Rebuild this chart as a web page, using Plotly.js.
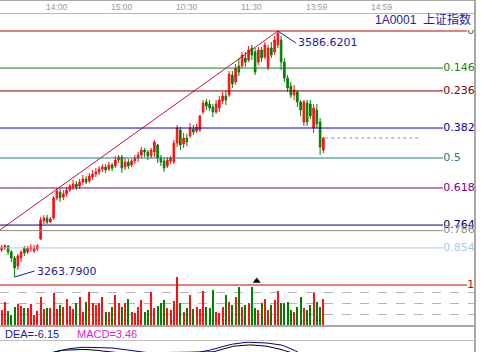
<!DOCTYPE html>
<html><head><meta charset="utf-8">
<script src="https://cdn.plot.ly/plotly-3.0.1.min.js"></script>
<style>html,body{margin:0;padding:0;background:#fff}#chart{width:481px;height:352px}</style>
</head><body><div id="chart"></div>
<script>
// ---- data ----
const open=[3299.2,3301.9,3304.5,3296.6,3288.7,3278.2,3288.7,3301.9,3296.6,3300.5,
3297.9,3300.5,3313.7,3337.3,3341.2,3336.0,3341.2,3367.5,3375.3,3368.8,
3372.7,3378.0,3381.9,3385.8,3383.2,3388.5,3392.4,3389.8,3395.0,3399.0,
3401.6,3405.5,3408.1,3405.5,3410.8,3409.5,3417.3,3421.3,3408.1,3414.7,
3410.8,3416.0,3420.0,3423.9,3430.4,3427.8,3422.6,3427.8,3437.0,3420.0,
3416.0,3409.5,3416.0,3414.7,3439.6,3456.7,3438.3,3446.2,3448.8,3458.0,
3455.4,3456.7,3480.3,3493.4,3490.8,3486.9,3480.3,3485.6,3494.8,3501.3,
3502.6,3528.9,3519.7,3540.7,3540.7,3551.2,3548.6,3564.3,3559.1,3545.9,
3561.7,3552.5,3538.1,3564.3,3559.1,3568.2,3574.8,3545.9,3524.9,3514.4,
3502.6,3506.6,3493.4,3467.2,3492.1,3490.8,3459.3,3482.9,3467.2,3430.4];
const high=[3305.8,3307.1,3305.8,3299.2,3291.4,3294.0,3299.2,3304.5,3304.5,3307.1,
3305.8,3307.1,3342.5,3345.2,3345.2,3342.5,3370.1,3380.6,3379.3,3378.0,
3381.9,3385.8,3391.1,3389.8,3392.4,3397.6,3396.3,3400.3,3404.2,3406.8,
3409.5,3412.1,3412.1,3414.7,3413.4,3422.6,3423.9,3423.9,3420.0,3418.6,
3418.6,3423.9,3427.8,3434.4,3433.1,3430.4,3433.1,3443.6,3438.3,3423.9,
3420.0,3421.3,3422.6,3443.6,3463.3,3460.6,3452.8,3451.5,3465.9,3463.3,
3464.6,3476.4,3496.1,3497.4,3496.1,3490.8,3496.1,3501.3,3506.6,3507.9,
3534.1,3534.1,3543.3,3551.2,3559.1,3559.1,3566.9,3568.2,3564.3,3565.6,
3565.6,3572.2,3568.2,3572.2,3580.1,3586.62,3580.1,3551.2,3528.9,3519.7,
3515.8,3509.2,3496.1,3496.1,3496.1,3496.1,3490.8,3490.8,3472.5,3447.5];
const low=[3296.6,3299.2,3292.7,3283.5,3263.79,3273.0,3283.5,3291.4,3294.0,3296.6,
3295.3,3297.9,3312.4,3333.3,3333.3,3334.7,3338.6,3364.8,3362.2,3364.8,
3368.8,3375.3,3378.0,3378.0,3379.3,3384.5,3385.8,3387.2,3391.1,3395.0,
3397.6,3401.6,3400.3,3402.9,3402.9,3406.8,3413.4,3400.3,3404.2,3405.5,
3408.1,3412.1,3414.7,3420.0,3421.3,3417.3,3420.0,3421.3,3413.4,3409.5,
3401.6,3406.8,3412.1,3412.1,3434.4,3430.4,3433.1,3435.7,3446.2,3450.1,
3452.8,3454.1,3477.7,3483.0,3481.6,3473.8,3477.7,3480.3,3490.8,3489.5,
3500.0,3511.8,3515.8,3527.6,3538.1,3539.4,3545.9,3548.6,3528.9,3542.0,
3545.9,3549.9,3535.4,3551.2,3555.1,3564.3,3535.4,3519.7,3506.6,3498.7,
3496.1,3486.9,3475.1,3462.0,3462.0,3471.1,3452.8,3459.3,3423.9,3426.5];
const close=[3303.2,3304.5,3296.6,3288.7,3275.6,3291.4,3296.6,3295.3,3301.9,3303.2,
3301.9,3304.5,3338.6,3341.2,3336.0,3339.9,3367.5,3376.7,3367.5,3372.7,
3378.0,3383.2,3385.8,3381.9,3388.5,3392.4,3388.5,3396.3,3399.0,3401.6,
3405.5,3408.1,3404.2,3410.8,3406.8,3417.3,3421.3,3406.8,3414.7,3409.5,
3416.0,3420.0,3423.9,3430.4,3427.8,3422.6,3430.4,3441.0,3420.0,3414.7,
3406.8,3417.3,3420.0,3439.6,3459.3,3437.0,3446.2,3441.0,3459.3,3454.1,
3460.6,3475.1,3492.1,3488.2,3485.6,3480.3,3490.8,3496.1,3501.3,3496.1,
3530.2,3517.1,3538.1,3532.8,3555.1,3545.9,3561.7,3555.1,3532.8,3561.7,
3551.2,3568.2,3564.3,3555.1,3574.8,3584.0,3545.9,3524.9,3511.8,3502.6,
3509.2,3493.4,3483.0,3493.4,3467.2,3475.1,3485.6,3464.6,3434.4,3446.2];
const volume=[1600,2370,1530,1100,1930,2170,2000,1770,1770,2200,
1100,1530,2930,1670,1770,1770,3330,1670,2100,1870,
2730,2000,1670,2270,2930,1430,2430,3370,2270,2100,
2270,2930,1430,1430,1930,3100,2270,1930,2270,2670,
1430,1270,1930,2600,1430,1600,3370,1770,2000,2270,
2600,1770,1600,2530,4870,2330,1430,1770,3100,1670,
1930,1670,3530,1930,1770,3600,1430,1270,1930,3100,
2430,2100,2930,3870,1930,2100,2270,3930,1770,1600,
2270,2670,1600,2100,2600,3470,2270,2270,2430,1600,
1430,1930,2930,1770,1600,2100,3270,2430,1930,2670];
const dea=[-4.0,-3.6,-3.3,-3.1,-3.0,-2.7,-2.2,-1.6,-0.9,-0.2,
0.5,1.2,2.1,3.0,3.9,4.8,5.7,6.6,7.4,8.1,
8.8,9.4,9.9,10.3,10.6,10.7,10.7,10.7,10.7,10.7,
10.7,10.6,10.5,10.3,10.0,9.6,9.1,8.5,7.9,7.3,
6.8,6.3,5.9,5.6,5.4,5.3,5.3,5.4,5.5,5.6,
5.6,5.5,5.4,5.4,5.5,5.6,5.7,5.8,5.9,5.9,
5.9,6.0,6.4,7.0,7.8,8.7,9.7,10.7,11.6,12.4,
13.1,13.8,14.4,14.9,15.3,15.6,15.7,15.7,15.7,15.6,
15.4,15.1,14.8,14.5,14.2,13.8,13.0,12.0,10.8,9.4,
7.8,6.1,4.4,2.7,1.0,-0.6,-2.2,-3.6,-5.0,-6.15];
const dif=[-6.0,-5.0,-5.0,-5.5,-6.0,-4.0,-2.0,-1.0,0.0,0.5,
1.0,1.5,3.0,3.8,4.2,5.0,6.0,7.0,7.5,7.8,
8.0,8.3,8.5,8.6,8.6,8.5,8.5,8.4,8.2,7.9,
7.5,7.0,6.5,6.0,5.5,5.0,4.5,4.0,3.8,3.5,
3.5,3.6,3.8,4.0,4.2,4.4,4.6,4.8,5.0,5.1,
4.8,4.5,4.4,4.6,5.0,5.2,5.3,5.4,5.5,5.5,
5.5,5.6,5.7,5.8,5.9,6.2,7.0,8.0,9.0,10.0,
10.8,11.5,12.0,12.4,12.7,12.9,13.0,13.0,12.9,12.7,
12.4,12.0,11.5,10.9,10.2,9.4,8.5,7.5,6.5,5.5,
4.5,3.0,1.5,0.2,-1.0,-2.0,-2.9,-3.6,-4.1,-4.42];
const timeLabels=['14:00','15:00','10:30','11:30','13:59','14:59'];
const timeTickIdx=[17,37,57,77,97,117];
const fibLevels=[0,0.146,0.236,0.382,0.5,0.618,0.764,0.786,0.854,1];
const fibLabels=['0','0.146','0.236','0.382','0.5','0.618','0.764','0.786','0.854','1'];
const fibHigh=3586.62, fibLow=3253.30;
const highIdx=85, highValue=3586.6201;
const lowIdx=4, lowValue=3263.7900;
const trendIdx=[-0.5,85], trendPrice=[3325.5,3586.62];
const markIdx=78.5, markVol=4500;
const stockCode='1A0001', stockName='上证指数';
const deaLast=-6.15, macdLast=3.46;

// ---- styles ----
const fibLineColors=['#c80000','#1a7f1a','#800000','#0000b4','#168080','#800080','#000070','#8c8c8c','#a6caf0','#d00000'];
const fibTextColors=['#1a7f1a','#1a7f1a','#800000','#0000b4','#168080','#800080','#000070','#8c8c8c','#a6caf0','#d00000'];
const RED='#ff1010', GREEN='#008000', NAVY='#1c1ca0';

const idx=open.map((_,i)=>i);
const W=481,H=352;
const py=v=>1-v/H, px=v=>v/W;

const fibPrice=fibLevels.map(l=>fibHigh-l*(fibHigh-fibLow));
const fibEnd=fibLevels.map(l=>(l===0||l===1)?143.2:135.8);
const fibLblX=fibLevels.map(l=>(l===0||l===1)?143.3:135.9);

const traces=[];
traces.push({type:'candlestick',x:idx,open:open,high:high,low:low,close:close,
  increasing:{line:{color:RED,width:1},fillcolor:RED},
  decreasing:{line:{color:GREEN,width:1},fillcolor:GREEN},
  whiskerwidth:0,hoverinfo:'skip',xaxis:'x',yaxis:'y',showlegend:false});
traces.push({type:'scatter',mode:'lines',x:trendIdx,y:trendPrice,line:{color:'#d0103a',width:1},
  xaxis:'x',yaxis:'y',showlegend:false,hoverinfo:'skip'});
traces.push({type:'scatter',mode:'lines',x:[99.6,128.2],y:[close[close.length-1],close[close.length-1]],
  line:{color:'#909090',width:1,dash:'dot'},xaxis:'x',yaxis:'y',showlegend:false,hoverinfo:'skip'});
traces.push({type:'scatter',mode:'text',x:fibLblX,y:fibPrice,text:fibLabels,textposition:'middle right',
  cliponaxis:true,textfont:{family:'DejaVu Sans',size:11,color:fibTextColors},
  xaxis:'x',yaxis:'y',showlegend:false,hoverinfo:'skip'});
traces.push({type:'bar',x:idx,y:volume,width:0.62,
  marker:{color:idx.map(i=>close[i]>=open[i]?RED:GREEN),line:{width:0}},
  xaxis:'x',yaxis:'y2',showlegend:false,hoverinfo:'skip'});
traces.push({type:'scatter',mode:'markers',x:[markIdx],y:[markVol],
  marker:{symbol:'triangle-up',size:7,color:'#000'},xaxis:'x',yaxis:'y2',showlegend:false,hoverinfo:'skip'});
traces.push({type:'scatter',mode:'lines',x:idx,y:dif,line:{color:'#000000',width:1},
  xaxis:'x',yaxis:'y3',showlegend:false,hoverinfo:'skip'});
traces.push({type:'scatter',mode:'lines',x:idx,y:dea,line:{color:'#000080',width:1},
  xaxis:'x',yaxis:'y3',showlegend:false,hoverinfo:'skip'});

const shapes=[];
fibLevels.forEach((l,k)=>{
  shapes.push({type:'line',xref:'x',yref:'y',x0:-0.6,x1:fibEnd[k],y0:fibPrice[k],y1:fibPrice[k],
    line:{color:fibLineColors[k],width:1},layer:'above'});
});
const gray='#a8a8a8';
shapes.push({type:'line',xref:'paper',yref:'paper',x0:0,x1:px(475),y0:py(0.5),y1:py(0.5),line:{color:gray,width:1}});
shapes.push({type:'line',xref:'paper',yref:'paper',x0:0,x1:px(475),y0:py(13.5),y1:py(13.5),line:{color:'#b8b8b8',width:1}});
shapes.push({type:'line',xref:'paper',yref:'paper',x0:px(475),x1:px(475),y0:0,y1:1,line:{color:gray,width:2}});
shapes.push({type:'line',xref:'paper',yref:'paper',x0:0,x1:px(475),y0:py(326),y1:py(326),line:{color:gray,width:2}});
shapes.push({type:'line',xref:'paper',yref:'paper',x0:0,x1:px(475),y0:py(340.5),y1:py(340.5),line:{color:'#c0c0c0',width:1}});

const annotations=[];
timeLabels.forEach((t,k)=>annotations.push({xref:'x',yref:'paper',x:timeTickIdx[k],y:py(7),text:t,showarrow:false,
  xanchor:'center',yanchor:'middle',font:{family:'Liberation Sans',size:8.5,color:'#9a9a9a'}}));
annotations.push({xref:'paper',yref:'paper',x:px(473),y:py(20),xanchor:'right',yanchor:'middle',showarrow:false,
  text:stockCode+'  '+stockName,font:{family:'Liberation Sans, Noto Sans CJK SC',size:12,color:NAVY}});
annotations.push({xref:'x',yref:'y',x:highIdx,y:fibHigh,text:highValue.toFixed(4),showarrow:true,arrowhead:0,
  arrowwidth:1,arrowcolor:NAVY,ax:18,ay:12,xanchor:'left',yanchor:'middle',standoff:0,
  font:{family:'DejaVu Sans',size:11,color:NAVY}});
annotations.push({xref:'x',yref:'y',x:lowIdx,y:lowValue,text:lowValue.toFixed(4),showarrow:true,arrowhead:0,
  arrowwidth:1,arrowcolor:NAVY,ax:20,ay:-6,xanchor:'left',yanchor:'middle',standoff:0,
  font:{family:'DejaVu Sans',size:11,color:NAVY}});
annotations.push({xref:'paper',yref:'paper',x:px(3),y:py(334),xanchor:'left',yanchor:'middle',showarrow:false,
  text:'DEA='+deaLast.toFixed(2),font:{family:'Liberation Sans',size:11,color:'#1c1c9c'}});
annotations.push({xref:'paper',yref:'paper',x:px(75),y:py(334),xanchor:'left',yanchor:'middle',showarrow:false,
  text:'MACD='+macdLast.toFixed(2),font:{family:'Liberation Sans',size:11,color:'#e020e0'}});

const hidden={showgrid:false,zeroline:false,showticklabels:false,ticks:'',showline:false,fixedrange:true};
const layout={
  width:W,height:H,margin:{l:0,r:0,t:0,b:0},paper_bgcolor:'#ffffff',plot_bgcolor:'rgba(0,0,0,0)',
  showlegend:false,bargap:0,
  xaxis:Object.assign({},hidden,{domain:[0,px(475)],range:[-0.492,145.66],rangeslider:{visible:false}}),
  yaxis:Object.assign({},hidden,{domain:[py(300),py(30)],range:[3233.61,3587.93]}),
  yaxis2:Object.assign({},hidden,{domain:[py(326),py(277)],range:[0,4900],anchor:'x',
    showgrid:true,gridcolor:'#b4b4b4',griddash:'dash',gridwidth:1,tickvals:[1200,2300,3400,4800]}),
  yaxis3:Object.assign({},hidden,{domain:[0,py(341)],range:[6,17],anchor:'x'}),
  shapes:shapes,annotations:annotations
};
Plotly.newPlot('chart',traces,layout,{staticPlot:true,displayModeBar:false});
</script></body></html>
